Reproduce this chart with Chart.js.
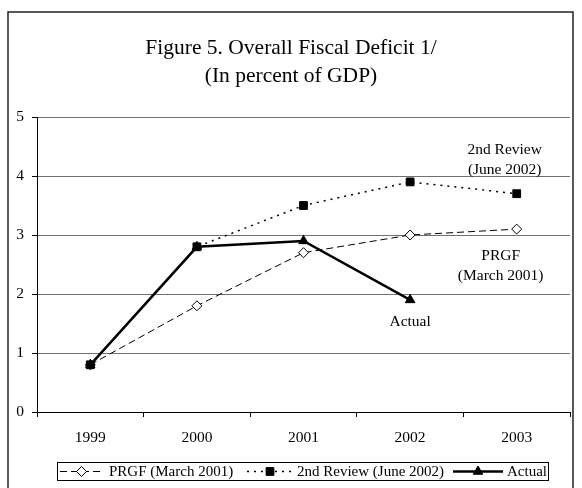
<!DOCTYPE html>
<html>
<head>
<meta charset="utf-8">
<script src="https://cdn.jsdelivr.net/npm/chart.js@4.4.0/dist/chart.umd.min.js"></script>
<style>
html,body{margin:0;padding:0;background:#fff;}
#wrap{width:582px;height:488px;position:relative;}
</style>
</head>
<body>
<div id="wrap"><canvas id="c" width="582" height="488"></canvas></div>
<script>
const categories = ['1999','2000','2001','2002','2003'];
const prgf = [0.8, 1.8, 2.7, 3.0, 3.1];
const review2 = [0.8, 2.8, 3.5, 3.9, 3.7];
const actual = [0.8, 2.8, 2.9, 1.9, null];
const yTicks = [0,1,2,3,4,5];
const titleLines = ['Figure 5. Overall Fiscal Deficit 1/', '(In percent of GDP)'];
const seriesNames = ['PRGF (March 2001)', '2nd Review (June 2002)', 'Actual'];

const FONT = '"Liberation Serif", "DejaVu Serif", serif';

const decor = {
  id: 'decor',
  afterDraw(chart) {
    const ctx = chart.ctx;
    const xs = chart.scales.x, ys = chart.scales.y;
    ctx.save();
    // outer border
    ctx.strokeStyle = '#222';
    ctx.lineWidth = 1.5;
    ctx.strokeRect(8, 12, 565, 490);
    // title
    ctx.fillStyle = '#000';
    ctx.textAlign = 'center';
    ctx.textBaseline = 'middle';
    ctx.font = '21.5px ' + FONT;
    ctx.fillText(titleLines[0], 291, 48);
    ctx.fillText(titleLines[1], 291, 76);
    // annotations
    ctx.font = '15.5px ' + FONT;
    ctx.fillText('2nd Review', xs.getPixelForValue(4) - 12, ys.getPixelForValue(4.45));
    ctx.fillText('(June 2002)', xs.getPixelForValue(4) - 12, ys.getPixelForValue(4.1));
    ctx.fillText('PRGF', xs.getPixelForValue(4) - 16, ys.getPixelForValue(2.65));
    ctx.fillText('(March 2001)', xs.getPixelForValue(4) - 16, ys.getPixelForValue(2.3));
    ctx.fillText('Actual', xs.getPixelForValue(3), ys.getPixelForValue(1.52));
    // legend
    const lx = 57, ly = 462, lw = 491, lh = 18;
    ctx.lineWidth = 1;
    ctx.strokeStyle = '#000';
    ctx.strokeRect(lx + 0.5, ly + 0.5, lw, lh);
    const cy = ly + lh / 2 + 0.5;
    const items = [
      {x0: 60, x1: 103, tx: 109, ds: 0},
      {x0: 247, x1: 293, tx: 297, ds: 1},
      {x0: 453, x1: 503, tx: 507, ds: 2}
    ];
    ctx.textAlign = 'left';
    ctx.font = '15px ' + FONT;
    items.forEach(it => {
      const d = chart.data.datasets[it.ds];
      ctx.save();
      ctx.strokeStyle = '#000';
      ctx.lineWidth = d.borderWidth;
      ctx.setLineDash(d.borderDash || []);
      ctx.beginPath();
      ctx.moveTo(it.x0, cy);
      ctx.lineTo(it.x1, cy);
      ctx.stroke();
      ctx.restore();
      ctx.save();
      ctx.fillStyle = d.pointBackgroundColor;
      ctx.strokeStyle = d.pointBorderColor;
      ctx.lineWidth = d.pointBorderWidth;
      ctx.setLineDash([]);
      Chart.helpers.drawPoint(ctx, {
        pointStyle: d.pointStyle, radius: d.pointRadius, borderWidth: d.pointBorderWidth, rotation: 0
      }, (it.x0 + it.x1) / 2, cy);
      ctx.restore();
      ctx.fillStyle = '#000';
      ctx.fillText(seriesNames[it.ds], it.tx, cy + 1);
    });
    ctx.restore();
  }
};

new Chart(document.getElementById('c'), {
  type: 'line',
  data: {
    labels: categories,
    datasets: [
      {
        label: seriesNames[0], data: prgf, order: 2,
        borderColor: '#000', borderWidth: 1, borderDash: [7, 4],
        pointStyle: 'rectRot', pointRadius: 5, pointBackgroundColor: '#fff',
        pointBorderColor: '#000', pointBorderWidth: 1, tension: 0
      },
      {
        label: seriesNames[1], data: review2, order: 0,
        borderColor: '#000', borderWidth: 1.5, borderDash: [2, 5],
        pointStyle: 'rect', pointRadius: 5.5, pointBackgroundColor: '#000',
        pointBorderColor: '#000', pointBorderWidth: 1, tension: 0
      },
      {
        label: seriesNames[2], data: actual, order: 1,
        borderColor: '#000', borderWidth: 2.5,
        pointStyle: 'triangle', pointRadius: 5.5, pointBackgroundColor: '#000',
        pointBorderColor: '#000', pointBorderWidth: 1, tension: 0
      }
    ]
  },
  options: {
    responsive: false,
    animation: false,
    devicePixelRatio: 1,
    layout: { padding: { top: 117, right: 12, left: 0, bottom: 0 } },
    plugins: { legend: { display: false }, title: { display: false }, tooltip: { enabled: false } },
    scales: {
      x: {
        type: 'category', offset: true,
        grid: { offset: true, drawOnChartArea: false, drawTicks: true, tickLength: 5, color: '#000', lineWidth: 1 },
        border: { display: true, color: '#000', width: 1 },
        ticks: { color: '#000', font: { family: FONT, size: 15.5 }, padding: 12, maxRotation: 0 },
        afterFit(s) { s.height = 76; }
      },
      y: {
        min: 0, max: 5,
        afterBuildTicks(s) { s.ticks = yTicks.map(v => ({ value: v })); },
        grid: { color: '#707070', lineWidth: 1, tickLength: 5, tickColor: '#000' },
        border: { display: true, color: '#000', width: 1 },
        ticks: { color: '#000', font: { family: FONT, size: 15.5 }, padding: 8 },
        afterFit(s) { s.width = 37; }
      }
    }
  },
  plugins: [decor]
});
</script>
</body>
</html>
